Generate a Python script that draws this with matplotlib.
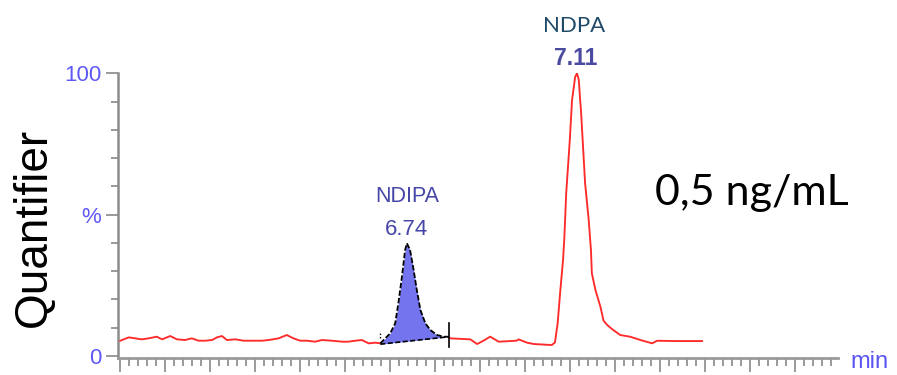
import matplotlib
matplotlib.use("Agg")
import matplotlib.pyplot as plt
import numpy as np
from matplotlib.ticker import MultipleLocator, FixedLocator, NullFormatter

# ---------------- data ----------------
times = [6.100, 6.119, 6.133, 6.148, 6.163, 6.181, 6.193, 6.211, 6.226, 6.244,
         6.259, 6.274, 6.289, 6.304, 6.315, 6.326, 6.337, 6.356, 6.374, 6.393,
         6.415, 6.430, 6.452, 6.470, 6.485, 6.500, 6.515, 6.533, 6.548, 6.570,
         6.593, 6.607, 6.622, 6.637, 6.652, 6.667, 6.678,
         6.700, 6.711, 6.718, 6.726, 6.733, 6.737, 6.744, 6.752, 6.759, 6.767,
         6.778, 6.789, 6.804, 6.819, 6.830,
         6.833, 6.878, 6.893, 6.907, 6.922, 6.941, 6.981, 6.985, 7.004, 7.019,
         7.059, 7.066, 7.072, 7.078, 7.084, 7.087, 7.091, 7.099, 7.104, 7.111,
         7.115, 7.119, 7.122, 7.124, 7.128, 7.133, 7.141, 7.146, 7.148, 7.156,
         7.167, 7.174, 7.182, 7.193, 7.211, 7.233, 7.256, 7.282, 7.293, 7.330,
         7.393]
signal = [5.42, 6.60, 6.25, 5.90, 6.25, 6.84, 5.90, 7.07, 5.90, 5.66,
          6.25, 5.42, 5.42, 5.66, 6.60, 7.07, 5.66, 5.90, 5.42, 5.42,
          5.42, 5.66, 6.25, 7.43, 6.25, 5.42, 5.42, 5.07, 5.66, 5.42,
          5.07, 5.07, 5.42, 5.66, 4.48, 4.72, 4.49,
          8.03, 11.57, 18.64, 28.05, 37.50, 39.87, 37.50, 30.42, 23.35, 16.27,
          11.57, 9.20, 7.43, 6.83, 6.83,
          6.25, 5.90, 4.24, 5.42, 6.84, 5.07, 5.42, 5.90, 4.72, 4.24,
          3.89, 4.80, 11.57, 23.35, 33.96, 42.21, 57.55, 76.41, 90.56, 98.81,
          100.0, 97.63, 90.56, 86.42, 75.24, 61.09, 48.11, 37.50, 29.25, 23.35,
          17.45, 12.50, 11.00, 9.50, 7.43, 6.83, 5.66, 4.49, 5.40, 5.30,
          5.30]

peak_names = ["NDIPA", "NDPA"]
peak_rts = [6.737, 7.115]
peak_labels = ["6.74", "7.11"]
ndipa_start, ndipa_end = 6.678, 6.830
ndipa_base = [4.2, 6.8]
y_ticks = [0, 50, 100]
y_ticklabels = ["0", "%", "100"]
concentration = "0,5 ng/mL"

# ---------------- figure ----------------
W, H = 897, 375
fig = plt.figure(figsize=(W / 100, H / 100), dpi=100)
ax = fig.add_axes([118 / W, (H - 358) / H, 720 / W, (358 - 73.3) / H])

t = np.array(times)
s = np.array(signal)
in_peak = (t >= ndipa_start) & (t <= ndipa_end)
before = t <= ndipa_start
after = t >= ndipa_end

red = "#ff2a2a"
ax.plot(t[before], s[before], color=red, lw=1.35, zorder=3)
ax.plot(t[after], s[after], color=red, lw=1.35, zorder=3)

tp = t[in_peak]
sp = s[in_peak]
base = np.interp(tp, [ndipa_start, ndipa_end], ndipa_base)
ax.fill_between(tp, base, sp, color="#7474ee", lw=0, zorder=2)
ax.plot(tp, sp, color="black", lw=1.3, ls=(0, (3, 1.2)), zorder=4)
ax.plot([ndipa_start, ndipa_end], ndipa_base, color="black", lw=1.2,
        ls=(0, (3, 1.5)), zorder=4)
ax.plot([ndipa_end, ndipa_end], [ndipa_base[1] - 3.5, ndipa_base[1] + 5],
        color="black", lw=1.2, zorder=4)
ax.plot([ndipa_start, ndipa_start], [ndipa_base[0] + 2, ndipa_base[0] + 4.5],
        color="black", lw=1.0, ls=(0, (1, 1.5)), zorder=4)

ax.set_xlim(6.095, 7.695)
ax.set_ylim(-0.7, 100)

for side in ["top", "right"]:
    ax.spines[side].set_visible(False)
ax.spines["left"].set_color("#8c8c8c")
ax.spines["left"].set_linewidth(1.8)
ax.spines["left"].set_bounds(-0.7, 100)
ax.spines["bottom"].set_color("#9a9a9a")
ax.spines["bottom"].set_linewidth(2.0)

ax.yaxis.set_major_locator(FixedLocator(y_ticks))
ax.set_yticklabels(y_ticklabels)
ax.yaxis.set_minor_locator(MultipleLocator(10))
ax.xaxis.set_major_locator(MultipleLocator(0.1))
ax.xaxis.set_minor_locator(MultipleLocator(0.02))
ax.xaxis.set_major_formatter(NullFormatter())

tick_col = "#9a9a9a"
ax.tick_params(axis="y", which="major", length=9, width=1.4, color=tick_col,
               pad=3, labelsize=16, labelcolor="#5f58f5")
ax.tick_params(axis="y", which="minor", length=5, width=1.4, color=tick_col)
ax.tick_params(axis="x", which="major", length=10, width=1.4, color=tick_col)
ax.tick_params(axis="x", which="minor", length=6, width=1.4, color=tick_col)
for lab in ax.get_yticklabels():
    lab.set_family("Liberation Sans")

# peak annotations
ann_col = "#4646a8"
ax.annotate(peak_labels[0], xy=(peak_rts[0], max(sp)), xytext=(0, 6),
            textcoords="offset points", ha="center", va="baseline",
            fontsize=16, color=ann_col, family="Liberation Sans")
ax.annotate(peak_names[0], xy=(peak_rts[0], max(sp)), xytext=(0, 29.5),
            textcoords="offset points", ha="center", va="baseline",
            fontsize=15.5, color=ann_col, family="Liberation Sans")
ax.annotate(peak_labels[1], xy=(peak_rts[1], max(s)), xytext=(-1, 6),
            textcoords="offset points", ha="center", va="baseline",
            fontsize=16.5, color="#4a4aa0", family="Liberation Sans",
            fontweight="bold", annotation_clip=False)
ax.annotate(peak_names[1], xy=(peak_rts[1], max(s)), xytext=(-2, 29.5),
            textcoords="offset points", ha="center", va="baseline",
            fontsize=16, color="#1f4a68", family="Lato",
            annotation_clip=False)

fig.text(850 / W, (H - 373) / H, "min", ha="left", va="bottom",
         fontsize=17, color="#5a55f0", family="Liberation Sans")
fig.text(34 / W, (H - 227) / H, "Quantifier", rotation=90, ha="center",
         va="center", fontsize=33, color="black", family="Liberation Sans")
fig.text(655 / W, (H - 205) / H, concentration, ha="left", va="baseline",
         fontsize=31, color="black", family="Lato")

fig.savefig("out.png", dpi=100)
